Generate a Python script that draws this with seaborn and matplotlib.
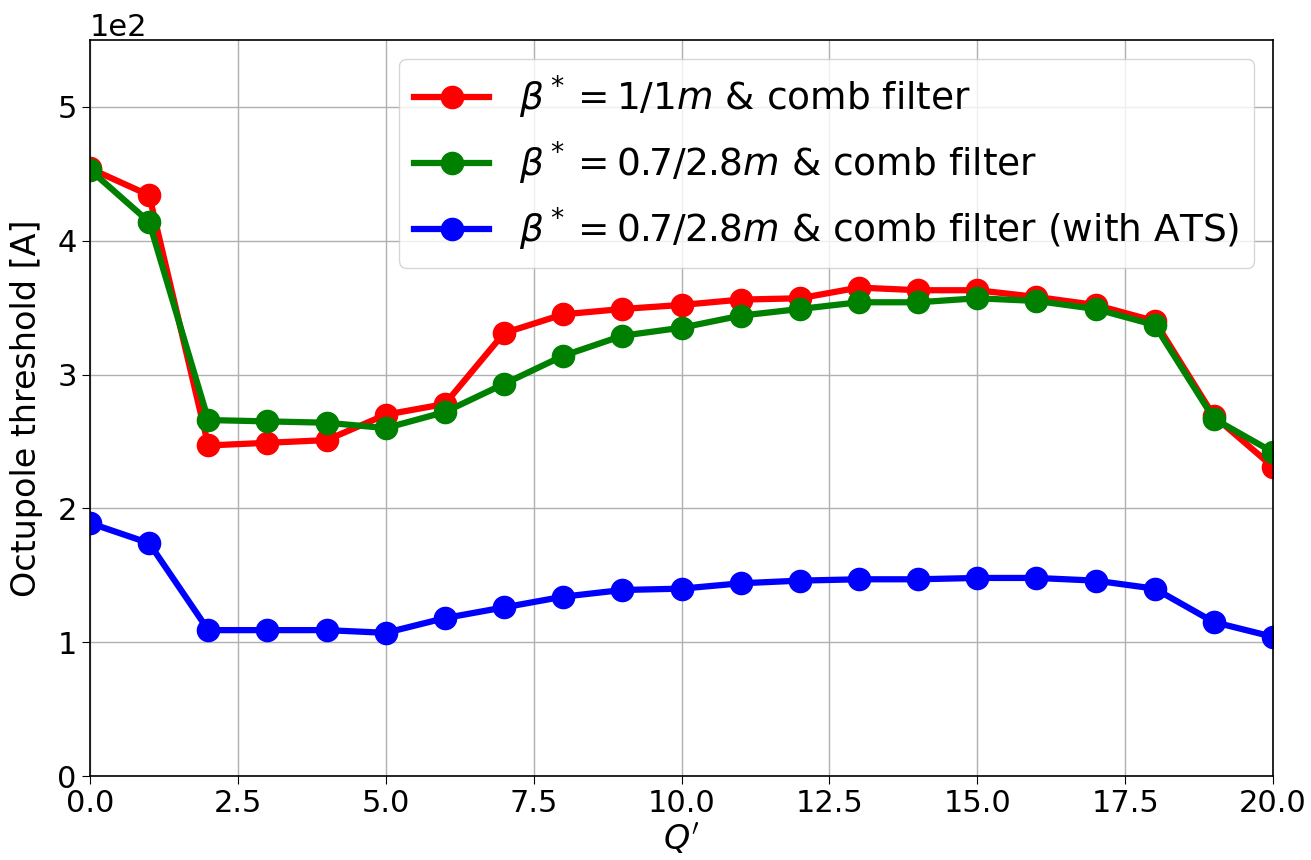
import numpy as np
import pandas as pd
import matplotlib
matplotlib.use("Agg")
import matplotlib.pyplot as plt
import seaborn as sns
from matplotlib.ticker import MultipleLocator

q_prime = list(range(0, 21))

red_vals = [454, 434, 247, 249, 251, 270, 278, 331, 345, 349, 352, 356, 357,
            365, 363, 363, 358, 352, 340, 269, 231]
green_vals = [453, 414, 266, 265, 264, 260, 272, 293, 314, 329, 335, 344, 349,
              354, 354, 357, 355, 349, 337, 267, 242]
blue_vals = [189, 174, 109, 109, 109, 107, 118, 126, 134, 139, 140, 144, 146,
             147, 147, 148, 148, 146, 140, 115, 104]

labels = [r"$\beta^* = 1/1m$ & comb filter",
          r"$\beta^* = 0.7/2.8m$ & comb filter",
          r"$\beta^* = 0.7/2.8m$ & comb filter (with ATS)"]
colors = ["red", "green", "blue"]

fs_tick = 22
fs_label = 24
fs_leg = 27
fig = plt.figure(figsize=(13.11, 8.6), dpi=100)
ax = fig.add_axes([90/1311, 1 - 776/860, (1273-90)/1311, (776-40)/860])

for vals, lab, col in zip([red_vals, green_vals, blue_vals], labels, colors):
    df = pd.DataFrame({"Q": q_prime, "thr": vals})
    sns.lineplot(data=df, x="Q", y="thr", ax=ax, color=col, label=lab,
                 marker="o", markersize=16, linewidth=4.5,
                 markeredgecolor=col, markeredgewidth=1)

ax.set_xlim(0, 20)
ax.set_ylim(0, 550)
ax.yaxis.set_major_locator(MultipleLocator(100))
ax.ticklabel_format(axis="y", style="sci", scilimits=(0, 0))
ax.yaxis.get_offset_text().set_fontsize(fs_tick)
ax.grid(True, color="#b0b0b0", linewidth=1)
ax.tick_params(labelsize=fs_tick, length=6)
ax.set_xlabel(r"$Q'$", fontsize=fs_label, labelpad=3)
ax.set_ylabel("Octupole threshold [A]", fontsize=fs_label, labelpad=10)
leg = ax.legend(loc="upper right", fontsize=fs_leg, framealpha=0.8)
for s in ax.spines.values():
    s.set_linewidth(1.2)

fig.savefig("out.png", dpi=100)
